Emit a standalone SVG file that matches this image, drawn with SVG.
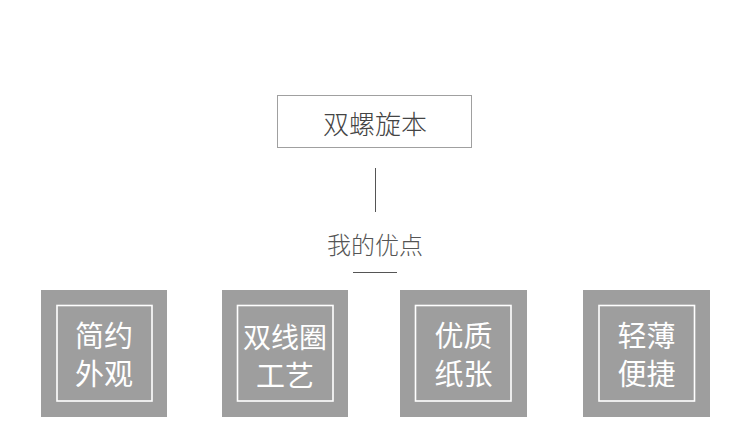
<svg xmlns="http://www.w3.org/2000/svg" width="750" height="446" viewBox="0 0 750 446">
<style>
.cn{font-family:"Noto Sans CJK SC","Liberation Sans",sans-serif;}
.card{fill:#9e9e9e;}
.inner{fill:none;stroke:#ffffff;stroke-width:1.6;}
.ct{font-size:29px;fill:#ffffff;text-anchor:middle;dominant-baseline:central;}
</style>
<rect width="750" height="446" fill="#ffffff"/>
<g id="title">
<rect x="277.5" y="95.5" width="194" height="52" fill="#ffffff" stroke="#a0a0a0" stroke-width="1"/>
<text class="cn" x="375" y="122" font-size="26" fill="#444444" text-anchor="middle" dominant-baseline="central" font-weight="300">双螺旋本</text>
</g>
<g id="connectors">
<line x1="375.5" y1="168" x2="375.5" y2="212" stroke="#555555" stroke-width="1"/>
<line x1="353" y1="272.5" x2="397" y2="272.5" stroke="#555555" stroke-width="1"/>
</g>
<g id="subtitle">
<text class="cn" x="375" y="243" font-size="24" fill="#555555" text-anchor="middle" dominant-baseline="central" font-weight="300">我的优点</text>
</g>
<g id="card1">
<rect class="card" x="41" y="290" width="126" height="127"/>
<rect class="inner" x="57" y="305.5" width="95" height="95.5"/>
<text class="cn ct" x="104" y="334">简约</text>
<text class="cn ct" x="104" y="372">外观</text>
</g>
<g id="card2">
<rect class="card" x="222" y="290" width="126" height="127"/>
<rect class="inner" x="237.5" y="305.5" width="95.5" height="95.5"/>
<text class="cn ct" x="285" y="336" style="font-size:28px">双线圈</text>
<text class="cn ct" x="285" y="374">工艺</text>
</g>
<g id="card3">
<rect class="card" x="400" y="290" width="127" height="127"/>
<rect class="inner" x="415.5" y="305.5" width="95.5" height="95.5"/>
<text class="cn ct" x="463.5" y="334">优质</text>
<text class="cn ct" x="463.5" y="372">纸张</text>
</g>
<g id="card4">
<rect class="card" x="583" y="290" width="127" height="127"/>
<rect class="inner" x="599" y="305.5" width="95.5" height="95.5"/>
<text class="cn ct" x="646.5" y="334">轻薄</text>
<text class="cn ct" x="646.5" y="372">便捷</text>
</g>
</svg>
